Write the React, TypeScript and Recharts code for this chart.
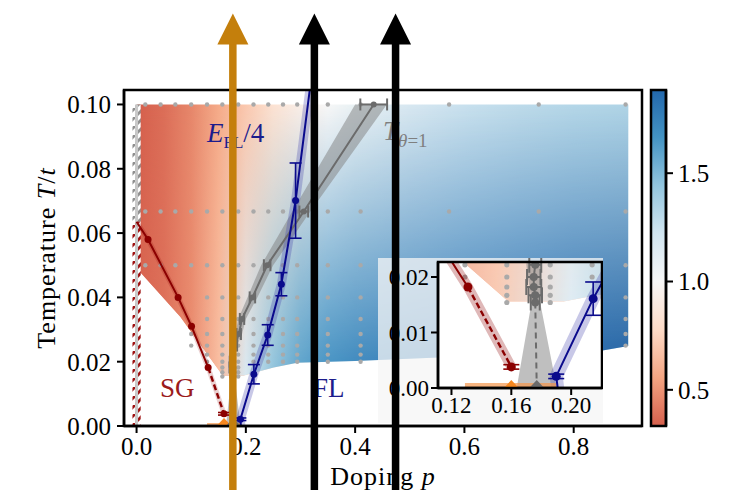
import React from "react";
import {
  ComposedChart,
  Line,
  Scatter,
  XAxis,
  YAxis,
  ErrorBar,
  ReferenceArea,
  ReferenceLine,
  ReferenceDot,
} from "recharts";

const FONT = '"Liberation Serif", "DejaVu Serif", serif';

// colour map: RdBu, white at 1.0
const rdbu = ["#67001f", "#b2182b", "#d6604d", "#f4a582", "#fddbc7", "#f7f7f7", "#d1e5f0", "#92c5de", "#4393c3", "#2166ac", "#053061"];
const cmapCenter = 1.0;
const cmapReach = 1.11;
const cbarMin = 0.333;
const cbarMax = 1.884;
const cbarTicks = [0.5, 1.0, 1.5];

// heat map region (outline) and its value along the top and bottom edges
const regionP = [0, 0.9, 0.9, 0.85, 0.4, 0.294, 0.251, 0.215, 0.195, 0.158, 0.08, 0.006, 0];
const regionT = [0.1, 0.1, 0.0249, 0.0234, 0.0202, 0.0197, 0.0182, 0.0166, 0.0156, 0.0156, 0.034, 0.048, 0.048];
const heatP = [0, 0.05, 0.1, 0.15, 0.2, 0.25, 0.3, 0.35, 0.4, 0.5, 0.6, 0.7, 0.8, 0.9];
const heatTop = [0.33, 0.38, 0.46, 0.58, 0.7, 0.83, 0.93, 1.0, 1.08, 1.18, 1.25, 1.29, 1.32, 1.34];
const heatBottom = [0.35, 0.39, 0.48, 0.66, 1.18, 1.45, 1.6, 1.68, 1.73, 1.78, 1.82, 1.86, 1.9, 1.92];

// simulation grid (grey dots)
const pGrid = [0.016, 0.044, 0.071, 0.1, 0.129, 0.157, 0.186, 0.214, 0.241, 0.268, 0.294, 0.35, 0.41, 0.572, 0.736, 0.895];
const tGrid = [0.1, 0.0667, 0.05, 0.04, 0.0333, 0.0286, 0.025, 0.0222, 0.02, 0.0182, 0.0167, 0.0154];
const rowFrom = [0, 0, 0, 4, 4, 3, 3, 4, 4, 5, 5, 5];
const rowTo = [15, 15, 15, 15, 15, 15, 15, 12, 12, 6, 6, 6];

// T_theta=1 (grey)
const grayP = [0.434, 0.306, 0.239, 0.212, 0.193, 0.187, 0.18, 0.176, 0.175, 0.175, 0.176, 0.176];
const grayErr = [0.0245, 0.008, 0.006, 0.005, 0.004, 0.004, 0.004, 0.004, 0.0045, 0.005, 0.0045, 0.003];
const grayTailP = [0.176, 0.177];
const grayTailT = [0.0154, 0];
const grayBandP = [0.1636, 0.1736, 0.17, 0.172, 0.181, 0.186, 0.203, 0.228, 0.285, 0.4, 0.458, 0.318, 0.25, 0.221, 0.2, 0.193, 0.184, 0.18, 0.1792, 0.1904];
const grayBandT = [0, 0.0155, 0.0222, 0.025, 0.0286, 0.0333, 0.04, 0.05, 0.0667, 0.1, 0.1, 0.0667, 0.05, 0.04, 0.0333, 0.0286, 0.025, 0.0222, 0.0155, 0];

// SG boundary (red)
const redP = [0.0, 0.021, 0.076, 0.1006, 0.131, 0.16];
const redT = [0.0635, 0.058, 0.04, 0.031, 0.0182, 0.0038];
const redErr = [0, 0, 0, 0, 0, 0.0004];

// E_FL/4 (blue)
const blueP = [0.191, 0.19, 0.2147, 0.24, 0.265, 0.291, 0.3245];
const blueT = [0, 0.0021, 0.0161, 0.0283, 0.0441, 0.0701, 0.1145];
const blueErr = [0, 0.0004, 0.003, 0.0032, 0.0036, 0.0117, 0];

// hatched strip at p = 0
const hatchT = [0, 0.0635, 0.1];
const hatchHalf = 0.0075;

// orange marker and band at T = 0
const orangeSpan = [0.129, 0.19];
const orangeDepth = 0.0009;
const orangeP = 0.16;

// arrows
const arrowP = [0.1762, 0.3254, 0.474];
const arrowColors = ["#c47f0c", "#000000", "#000000"];
const arrowFoot = -0.03;
const arrowHead = 0.119;

const mainXTicks = [0, 0.2, 0.4, 0.6, 0.8];
const mainYTicks = [0, 0.02, 0.04, 0.06, 0.08, 0.1];
const insetXTicks = [0.12, 0.16, 0.2];
const insetYTicks = [0, 0.01, 0.02];

const MAIN_X = [-0.023, 0.925];
const MAIN_Y = [0, 0.1045];
const INSET_X = [0.111, 0.2206];
const INSET_Y = [0, 0.0227];

const RED = "#8b0000";
const BLUE = "#0a0a8c";
const GRAY = "#6b6b6b";

function hexRgb(h: string) {
  return [1, 3, 5].map((i) => parseInt(h.slice(i, i + 2), 16));
}

function cmap(v: number) {
  const t = Math.min(1, Math.max(0, 0.5 + (v - cmapCenter) / (2 * cmapReach)));
  const x = t * (rdbu.length - 1);
  const i = Math.min(rdbu.length - 2, Math.floor(x));
  const f = x - i;
  const a = hexRgb(rdbu[i]);
  const b = hexRgb(rdbu[i + 1]);
  return `rgb(${a.map((c, k) => Math.round(c + (b[k] - c) * f)).join(",")})`;
}

const pts = (ps: number[], ts: number[], es?: number[]) =>
  ps.map((p, i) => ({ p, t: ts[i], e: es ? es[i] : 0 }));

const regionData = pts(regionP, regionT);
const dotData = tGrid.flatMap((t, i) => pGrid.slice(rowFrom[i], rowTo[i] + 1).map((p) => ({ p, t })));
const grayLine = pts(grayP, tGrid, grayErr);
const grayTail = pts(grayTailP, grayTailT);
const grayBand = pts(grayBandP, grayBandT);
const redAll = pts(redP, redT, redErr);
const blueAll = pts(blueP, blueT, blueErr);
const arrowBase = arrowP.map((p) => ({ p, t: 0 }));
const cbarData = [
  { x: 0, v: cbarMin },
  { x: 1, v: cbarMax },
];

const noDot = () => <g />;

function outline(points: any[]) {
  return points.map((pt, i) => `${i ? "L" : "M"}${pt.x},${pt.y}`).join("") + "Z";
}

function HeatShape(props: any) {
  const d = outline(props.points);
  return (
    <g opacity={props.alpha}>
      <path d={d} fill={`url(#${props.gid}-top)`} />
      <path d={d} fill={`url(#${props.gid}-bot)`} mask={`url(#${props.gid}-fade)`} />
    </g>
  );
}

function BandShape(props: any) {
  return <path d={outline(props.points)} fill={props.paint} fillOpacity={props.alpha} stroke="none" />;
}

const circle = (r: number, c: string) => (s: any) => <circle cx={s.cx} cy={s.cy} r={r} fill={c} />;
const tri = (c: string) => (s: any) => (
  <polygon points={`${s.cx - 7.5},${s.cy} ${s.cx + 7.5},${s.cy} ${s.cx},${s.cy - 8}`} fill={c} />
);

function defs(gid: string) {
  const span = heatP[heatP.length - 1] - heatP[0];
  const stops = (vals: number[]) =>
    heatP.map((p, i) => <stop key={i} offset={(p - heatP[0]) / span} stopColor={cmap(vals[i])} />);
  return (
    <defs>
      <linearGradient id={`${gid}-top`} x1="0" y1="0" x2="1" y2="0">{stops(heatTop)}</linearGradient>
      <linearGradient id={`${gid}-bot`} x1="0" y1="0" x2="1" y2="0">{stops(heatBottom)}</linearGradient>
      <linearGradient id={`${gid}-fadeg`} x1="0" y1="0" x2="0" y2="1">
        <stop offset="0" stopColor="#fff" stopOpacity={0} />
        <stop offset="1" stopColor="#fff" stopOpacity={1} />
      </linearGradient>
      <mask id={`${gid}-fade`} maskContentUnits="objectBoundingBox">
        <rect x="0" y="0" width="1" height="1" fill={`url(#${gid}-fadeg)`} />
      </mask>
      <pattern id={`${gid}-hred`} patternUnits="userSpaceOnUse" width="9" height="9">
        <rect width="9" height="9" fill="#fff" />
        <path d="M-2,11 L11,-2" stroke="#9e1010" strokeWidth="2.8" />
      </pattern>
      <pattern id={`${gid}-hgray`} patternUnits="userSpaceOnUse" width="9" height="9">
        <rect width="9" height="9" fill="#fff" />
        <path d="M-2,11 L11,-2" stroke="#8f8f8f" strokeWidth="2.8" />
      </pattern>
    </defs>
  );
}

function layers(gid: string, inset: boolean) {
  const r = inset ? 4.5 : 3.5;
  const cap = inset ? 8 : 6;
  const out: React.ReactNode[] = [];
  out.push(
    <Scatter key="heat" data={regionData} shape={noDot} line={<HeatShape gid={gid} alpha={inset ? 0.8 : 1} />} isAnimationActive={false} zIndex={10} />
  );
  if (!inset) {
    out.push(
      <ReferenceArea key="hr" x1={-hatchHalf} x2={hatchHalf} y1={hatchT[0]} y2={hatchT[1]} fill={`url(#${gid}-hred)`} fillOpacity={1} stroke="none" zIndex={20} />,
      <ReferenceArea key="hg" x1={-hatchHalf} x2={hatchHalf} y1={hatchT[1]} y2={hatchT[2]} fill={`url(#${gid}-hgray)`} fillOpacity={1} stroke="none" zIndex={20} />,
      <ReferenceLine key="hl" segment={[{ x: 0, y: hatchT[0] }, { x: 0, y: hatchT[2] }]} stroke="#c8c8c8" strokeWidth={3} zIndex={21} />
    );
  }
  out.push(
    <Scatter key="dots" data={dotData} shape={circle(inset ? 2.6 : 2.2, "#a9a9a9")} isAnimationActive={false} zIndex={30} />,
    <Scatter key="gband" data={grayBand} shape={noDot} line={<BandShape paint="#808080" alpha={0.5} />} isAnimationActive={false} zIndex={40} />,
    <Line key="rband" data={redAll} dataKey="t" type="linear" dot={false} activeDot={false} stroke={RED} strokeOpacity={inset ? 0.28 : 0.18} strokeWidth={inset ? 10 : 5} strokeLinejoin="round" isAnimationActive={false} zIndex={41} />,
    <Line key="bband" data={blueAll} dataKey="t" type="linear" dot={false} activeDot={false} stroke="#3a3aa8" strokeOpacity={0.28} strokeWidth={inset ? 13 : 9} strokeLinejoin="round" isAnimationActive={false} zIndex={41} />,
    <ReferenceArea key="oband" x1={orangeSpan[0]} x2={orangeSpan[1]} y1={0} y2={orangeDepth} fill="#f5964a" fillOpacity={0.7} stroke="none" zIndex={45} />,
    <Line key="gline" data={grayLine} dataKey="t" type="linear" dot={false} activeDot={false} stroke={GRAY} strokeWidth={2} isAnimationActive={false} zIndex={400} />,
    <Line key="gtail" data={grayTail} dataKey="t" type="linear" dot={false} activeDot={false} stroke={GRAY} strokeWidth={2} strokeDasharray="6 4" isAnimationActive={false} zIndex={400} />,
    <Line key="rline" data={redAll.slice(0, 5)} dataKey="t" type="linear" dot={false} activeDot={false} stroke={RED} strokeWidth={2} isAnimationActive={false} zIndex={400} />,
    <Line key="rtail" data={redAll.slice(4)} dataKey="t" type="linear" dot={false} activeDot={false} stroke={RED} strokeWidth={2.4} strokeDasharray="6 3" isAnimationActive={false} zIndex={400} />,
    <Line key="bline" data={blueAll} dataKey="t" type="linear" dot={false} activeDot={false} stroke={BLUE} strokeWidth={2} strokeLinejoin="round" isAnimationActive={false} zIndex={400} />,
    <Scatter key="gm" data={grayLine} shape={circle(inset ? 4 : 3, GRAY)} isAnimationActive={false} zIndex={600}>
      <ErrorBar dataKey="e" direction="x" width={cap} stroke={GRAY} strokeWidth={2} />
    </Scatter>,
    <Scatter key="rm" data={redAll.slice(1)} shape={circle(r, RED)} isAnimationActive={false} zIndex={600}>
      <ErrorBar dataKey="e" direction="y" width={cap} stroke={RED} strokeWidth={1.6} />
    </Scatter>,
    <Scatter key="bm" data={blueAll.slice(1, 6)} shape={circle(r, BLUE)} isAnimationActive={false} zIndex={600}>
      <ErrorBar dataKey="e" direction="y" width={cap} stroke={BLUE} strokeWidth={1.6} />
    </Scatter>,
    <Scatter key="otri" data={[{ p: orangeP, t: 0 }]} shape={tri("#f5871f")} isAnimationActive={false} zIndex={610} />,
    <Scatter key="gtri" data={[grayTail[1]]} shape={tri(GRAY)} isAnimationActive={false} zIndex={610} />
  );
  return out;
}

const tickFont = (size: number) => ({ fontSize: size, fill: "#000", fontFamily: FONT });
const axisLine = { stroke: "#000", strokeWidth: 2.5 };
const tickLine = { stroke: "#000", strokeWidth: 2 };

const yLabel = (props: any) => {
  const vb = props.viewBox || { x: 0, y: 90, height: 336 };
  const x = vb.x + 55;
  const y = vb.y + vb.height / 2;
  return (
    <text x={x} y={y} transform={`rotate(-90 ${x} ${y})`} textAnchor="middle" fontFamily={FONT} fontSize={26} letterSpacing={1} fill="#000">
      {"Temperature "}
      <tspan fontStyle="italic">T</tspan>/<tspan fontStyle="italic">t</tspan>
    </text>
  );
};

const xLabel = (props: any) => {
  const vb = props.viewBox || { x: 124, y: 426, width: 518 };
  return (
    <text x={vb.x + vb.width / 2} y={vb.y + 59} textAnchor="middle" fontFamily={FONT} fontSize={26} letterSpacing={1} fill="#000">
      {"Doping "}
      <tspan fontStyle="italic">p</tspan>
    </text>
  );
};

const note = (render: (cx: number, cy: number) => React.ReactNode) => (s: any) => <g>{render(s.cx, s.cy)}</g>;

function frame(xd: number[], yd: number[]) {
  return (
    <ReferenceArea x1={xd[0]} x2={xd[1]} y1={yd[0]} y2={yd[1]} fill="none" stroke="#000" strokeWidth={2.5} ifOverflow="visible" zIndex={1500} />
  );
}

function MainChart() {
  return (
    <ComposedChart width={734} height={490} margin={{ top: 90, right: 92, bottom: 0, left: 0 }}>
      {defs("m")}
      <XAxis dataKey="p" type="number" domain={MAIN_X} allowDataOverflow ticks={mainXTicks} tickFormatter={(v: number) => v.toFixed(1)} height={64} tickSize={7} tickMargin={4} tick={tickFont(25)} axisLine={axisLine} tickLine={tickLine} label={xLabel} />
      <YAxis dataKey="t" type="number" domain={MAIN_Y} allowDataOverflow ticks={mainYTicks} tickFormatter={(v: number) => v.toFixed(2)} width={124} tickSize={7} tickMargin={6} tick={tickFont(25)} axisLine={axisLine} tickLine={tickLine} label={yLabel} />
      {layers("m", false)}
      <ReferenceDot x={0.043} y={0.0091} r={1} zIndex={2000} shape={note((cx, cy) => (
        <text x={cx} y={cy} fontFamily={FONT} fontSize={27} fill="#9b1b1b">SG</text>
      ))} />
      <ReferenceDot x={0.3228} y={0.0091} r={1} zIndex={2000} shape={note((cx, cy) => (
        <text x={cx} y={cy} fontFamily={FONT} fontSize={27} fill="#1c1c8c">FL</text>
      ))} />
      <ReferenceDot x={0.1288} y={0.0883} r={1} zIndex={2000} shape={note((cx, cy) => (
        <text x={cx} y={cy} fontFamily={FONT} fontSize={27} fill="#1c1c8c">
          <tspan fontStyle="italic">E</tspan>
          <tspan fontSize={17} dy={6}>FL</tspan>
          <tspan dy={-6}>/4</tspan>
        </text>
      ))} />
      <ReferenceDot x={0.451} y={0.089} r={1} zIndex={2000} shape={note((cx, cy) => (
        <text x={cx} y={cy} fontFamily={FONT} fontSize={27} fill="#7f7f7f">
          <tspan fontStyle="italic">T</tspan>
          <tspan fontSize={19} dy={7}>
            <tspan fontStyle="italic">θ</tspan>=1
          </tspan>
        </text>
      ))} />
      {frame(MAIN_X, MAIN_Y)}
    </ComposedChart>
  );
}

function InsetChart() {
  return (
    <ComposedChart width={225} height={165} margin={{ top: 4, right: 1, bottom: 0, left: 0 }}>
      {defs("i")}
      <XAxis dataKey="p" type="number" domain={INSET_X} allowDataOverflow ticks={insetXTicks} tickFormatter={(v: number) => v.toFixed(2)} height={35} tickSize={7} tickMargin={2} tick={tickFont(23)} axisLine={axisLine} tickLine={tickLine} />
      <YAxis dataKey="t" type="number" domain={INSET_Y} allowDataOverflow ticks={insetYTicks} tickFormatter={(v: number) => v.toFixed(2)} width={60} tickSize={7} tickMargin={2} tick={tickFont(23)} axisLine={axisLine} tickLine={tickLine} />
      <ReferenceArea x1={INSET_X[0]} x2={INSET_X[1]} y1={INSET_Y[0]} y2={INSET_Y[1]} fill="#fff" fillOpacity={1} stroke="none" zIndex={1} />
      {layers("i", true)}
      {frame(INSET_X, INSET_Y)}
    </ComposedChart>
  );
}

function ColorBar() {
  const nodes = rdbu.map((_, k) => cmapCenter + (k / (rdbu.length - 1) - 0.5) * 2 * cmapReach);
  const vals = [cbarMin, ...nodes.filter((v) => v > cbarMin && v < cbarMax), cbarMax];
  return (
    <ComposedChart width={134} height={490} data={cbarData} margin={{ top: 90, right: 8, bottom: 63, left: 51 }}>
      <defs>
        <linearGradient id="cbar" x1="0" y1="1" x2="0" y2="0">
          {vals.map((v, i) => (
            <stop key={i} offset={(v - cbarMin) / (cbarMax - cbarMin)} stopColor={cmap(v)} />
          ))}
        </linearGradient>
      </defs>
      <XAxis dataKey="x" type="number" domain={[0, 1]} allowDataOverflow height={1} tick={false} tickLine={false} axisLine={false} />
      <YAxis dataKey="v" orientation="right" type="number" domain={[cbarMin, cbarMax]} allowDataOverflow ticks={cbarTicks} tickFormatter={(v: number) => v.toFixed(1)} width={60} tickSize={7} tickMargin={5} tick={tickFont(25)} axisLine={axisLine} tickLine={tickLine} />
      <Scatter data={cbarData} shape={noDot} isAnimationActive={false} />
      <ReferenceArea x1={0} x2={1} y1={cbarMin} y2={cbarMax} fill="url(#cbar)" fillOpacity={1} stroke="#000" strokeWidth={2.5} ifOverflow="visible" />
    </ComposedChart>
  );
}

function ArrowOverlay() {
  return (
    <ComposedChart width={734} height={490} data={arrowBase} margin={{ top: 90, right: 92, bottom: 63, left: 123 }}>
      <XAxis dataKey="p" type="number" domain={MAIN_X} allowDataOverflow height={1} tick={false} tickLine={false} axisLine={false} />
      <YAxis dataKey="t" type="number" domain={MAIN_Y} allowDataOverflow width={1} tick={false} tickLine={false} axisLine={false} />
      <Scatter data={arrowBase} shape={noDot} isAnimationActive={false} />
      {arrowP.map((p, i) => (
        <ReferenceLine key={`s${i}`} segment={[{ x: p, y: arrowFoot }, { x: p, y: arrowHead }]} stroke={arrowColors[i]} strokeWidth={7.5} ifOverflow="visible" zIndex={3000} />
      ))}
      {arrowP.map((p, i) => (
        <ReferenceDot key={`h${i}`} x={p} y={arrowHead} r={15} ifOverflow="visible" zIndex={3000} shape={(s: any) => (
          <polygon points={`${s.cx - 15.5},${s.cy + 1} ${s.cx + 15.5},${s.cy + 1} ${s.cx},${s.cy - 30}`} fill={arrowColors[i]} />
        )} />
      ))}
    </ComposedChart>
  );
}

export default function App() {
  return (
    <div style={{ position: "absolute", left: 0, top: 0, width: 734, height: 490, background: "#fff", overflow: "hidden" }}>
      <div style={{ position: "absolute", left: 0, top: 0 }}>
        <MainChart />
      </div>
      <div style={{ position: "absolute", left: 600, top: 0 }}>
        <ColorBar />
      </div>
      <div style={{ position: "absolute", left: 378, top: 258, width: 225, height: 165, background: "rgba(245,245,245,0.75)" }}>
        <InsetChart />
      </div>
      <div style={{ position: "absolute", left: 0, top: 0, pointerEvents: "none" }}>
        <ArrowOverlay />
      </div>
    </div>
  );
}
